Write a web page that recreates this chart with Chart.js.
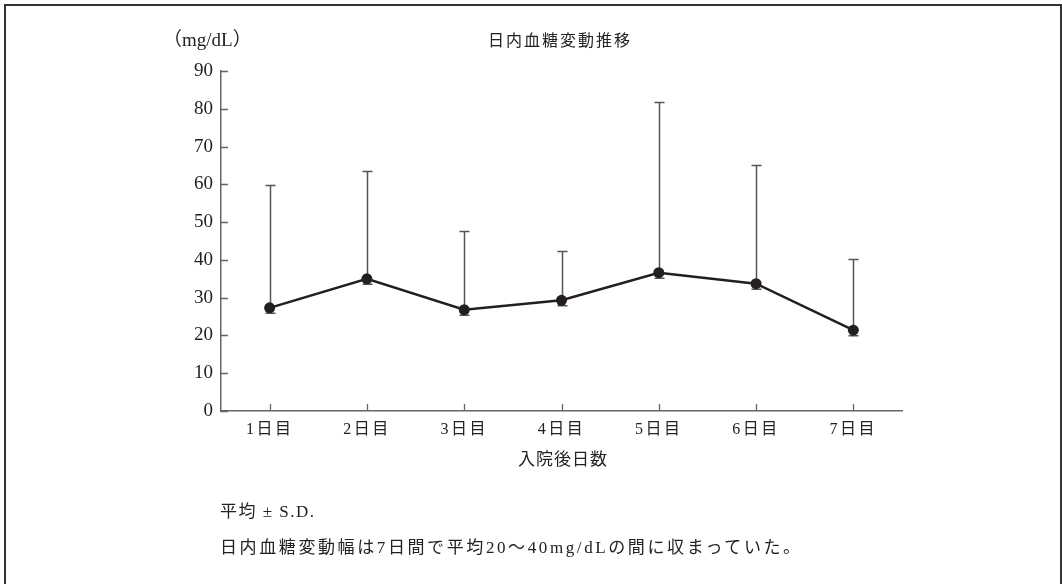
<!DOCTYPE html>
<html lang="ja">
<head>
<meta charset="utf-8">
<title>日内血糖変動推移</title>
<script src="https://cdn.jsdelivr.net/npm/chart.js@4.4.1/dist/chart.umd.min.js"></script>
<style>
  html, body { margin: 0; padding: 0; width: 1062px; height: 584px; overflow: hidden; background: #fff; }
  #frame { position: absolute; left: 4px; top: 4px; width: 1058px; height: 640px; box-sizing: border-box; border: 2px solid #333; }
  #plot { position: absolute; left: 0; top: 0; }
  .txt { position: absolute; white-space: nowrap; color: #222;
         font-family: "Liberation Serif", "Noto Sans CJK JP", serif; font-size: 17px; line-height: 20px; }
  #unit { left: 163px; top: 30px; font-size: 19px; }
  #title { left: 560px; top: 29px; transform: translateX(-50%); font-family: "Noto Sans CJK JP", sans-serif;
           font-size: 16px; letter-spacing: 2px; }
  #xtitle { left: 563px; top: 450px; transform: translateX(-50%); letter-spacing: 1px; }
  #note1 { left: 220px; top: 502px; letter-spacing: 1.5px; }
  #note2 { left: 220px; top: 538px; letter-spacing: 2.6px; }
</style>
</head>
<body>
<div id="frame"></div>
<canvas id="plot" width="1062" height="584"></canvas>
<div class="txt" id="unit">（mg/dL）</div>
<div class="txt" id="title">日内血糖変動推移</div>
<div class="txt" id="xtitle">入院後日数</div>
<div class="txt" id="note1">平均 ± S.D.</div>
<div class="txt" id="note2">日内血糖変動幅は7日間で平均20〜40mg/dLの間に収まっていた。</div>
<script>
// Days after admission
const days = ['1日目', '2日目', '3日目', '4日目', '5日目', '6日目', '7日目'];
// Mean daily glucose fluctuation (mg/dL)
const meanGlucose = [27.3, 35.0, 26.8, 29.3, 36.6, 33.7, 21.4];
// Standard deviation (mg/dL)
const sdGlucose = [32.5, 28.4, 20.9, 13.1, 45.1, 31.5, 18.8];
// Y axis range and step
const yMin = 0, yMax = 90, yStep = 10;

const serif = '"Liberation Serif", "Noto Sans CJK JP", serif';
const axisColor = '#666';

// Spaced-out day labels on the x axis only
const spacedDayLabels = {
  id: 'spacedDayLabels',
  afterLayout(chart) {
    const xs = chart.scales.x;
    if (xs._spacedWrap) return;
    const orig = xs.drawLabels;
    xs.drawLabels = function (area) {
      const ctx = this.ctx;
      ctx.save();
      ctx.letterSpacing = '2.5px';
      orig.call(this, area);
      ctx.restore();
    };
    xs._spacedWrap = true;
  }
};

// Ticks pointing into the plot area
const inwardTicks = {
  id: 'inwardTicks',
  afterDraw(chart) {
    const { ctx, chartArea: a, scales: { x, y } } = chart;
    ctx.save();
    ctx.strokeStyle = axisColor;
    ctx.lineWidth = 1.3;
    ctx.beginPath();
    y.ticks.forEach((t, i) => {
      const py = Math.round(y.getPixelForTick(i)) + 0.5;
      ctx.moveTo(a.left, py);
      ctx.lineTo(a.left + 7, py);
    });
    x.ticks.forEach((t, i) => {
      const px = Math.round(x.getPixelForTick(i)) + 0.5;
      ctx.moveTo(px, a.bottom);
      ctx.lineTo(px, a.bottom - 7);
    });
    ctx.stroke();
    ctx.restore();
  }
};

// Upper SD whiskers with caps
const errorBars = {
  id: 'errorBars',
  beforeDatasetsDraw(chart) {
    const { ctx, scales: { x, y } } = chart;
    ctx.save();
    ctx.strokeStyle = '#555';
    ctx.lineWidth = 1.5;
    ctx.beginPath();
    meanGlucose.forEach((m, i) => {
      const px = Math.round(x.getPixelForValue(i)) + 0.5;
      const pm = y.getPixelForValue(m);
      const pt = Math.round(y.getPixelForValue(m + sdGlucose[i])) + 0.5;
      ctx.moveTo(px, pm);
      ctx.lineTo(px, pt);
      ctx.moveTo(px - 5, pt);
      ctx.lineTo(px + 5, pt);
      ctx.moveTo(px - 5, pm + 5.5);
      ctx.lineTo(px + 5, pm + 5.5);
    });
    ctx.stroke();
    ctx.restore();
  }
};

new Chart(document.getElementById('plot'), {
  type: 'line',
  data: {
    labels: days,
    datasets: [{
      data: meanGlucose,
      borderColor: '#231f20',
      borderWidth: 2.5,
      backgroundColor: '#231f20',
      pointRadius: 5.5,
      pointBackgroundColor: '#231f20',
      pointBorderWidth: 0,
      tension: 0
    }]
  },
  options: {
    responsive: false,
    animation: false,
    events: [],
    layout: { padding: { left: 0, top: 71, right: 160, bottom: 133 } },
    plugins: { legend: { display: false }, tooltip: { enabled: false }, title: { display: false } },
    scales: {
      x: {
        offset: true,
        grid: { display: false, drawTicks: false },
        border: { display: true, color: axisColor, width: 1.5 },
        ticks: { padding: 9, color: '#222', font: { family: serif, size: 16 } },
        afterFit(s) { s.height = 40; }
      },
      y: {
        min: yMin, max: yMax,
        grid: { display: false, drawTicks: false },
        border: { display: true, color: axisColor, width: 1.5 },
        ticks: { stepSize: yStep, padding: 8, color: '#222', font: { family: serif, size: 19 } },
        afterFit(s) { s.width = 221; }
      }
    }
  },
  plugins: [spacedDayLabels, errorBars, inwardTicks]
});
</script>
</body>
</html>
